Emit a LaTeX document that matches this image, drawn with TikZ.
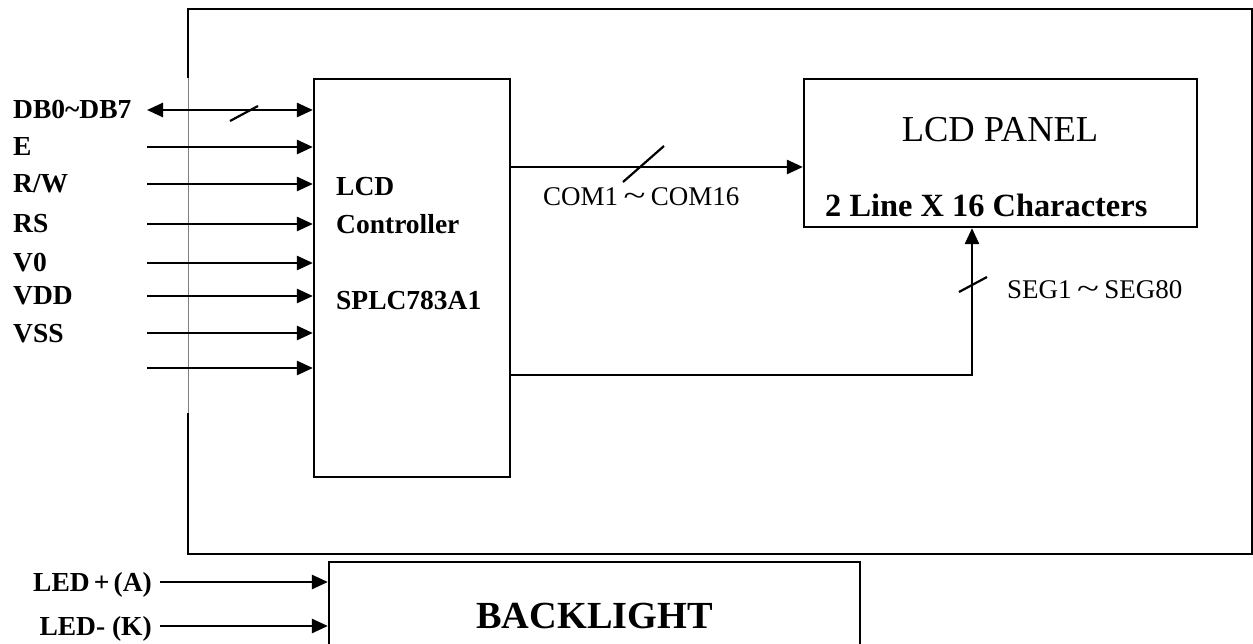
\documentclass[tikz,border=0pt]{standalone}
\usepackage{fontspec}
\setmainfont{Liberation Serif}
\usetikzlibrary{arrows.meta,positioning}

\newcommand{\bustilde}{\hspace{0.2em}\scalebox{1.5}[1.1]{\textasciitilde}\hspace{0.2em}}

\tikzset{
  blk/.style={draw=black,line width=2.2pt,inner sep=0pt},
  sig/.style={line width=2.6pt,->},
  tick/.style={line width=2.2pt},
  pinlbl/.style={font=\fontsize{27.5}{33}\selectfont\bfseries,inner sep=0pt},
  buslbl/.style={font=\fontsize{27}{32}\selectfont,inner sep=0pt,anchor=base west},
}

\begin{document}
\begin{tikzpicture}[x=1pt,y=-1pt,>={Triangle[length=16pt,width=14pt]}]
\useasboundingbox (0,0) rectangle (1253,644);
% module outline
\draw[line width=2.8pt] (188,78) -- (188,9) -- (1252,9) -- (1252,554) -- (188,554) -- (188,413);
\draw[gray,line width=1pt] (188,78) -- (188,413);

% blocks
\node[blk,minimum width=196pt,minimum height=398pt] (ctrl) at (412,278) {};
\node[pinlbl,anchor=north west,align=left,font=\fontsize{27.5}{38}\selectfont\bfseries] (ctrllbl) at (336,177) {LCD\\Controller\\[38pt]SPLC783A1};
\node[blk,minimum width=393pt,minimum height=148pt] (panel) at (1000.5,153) {};
\node[inner sep=0pt,anchor=base,font=\fontsize{36.5}{40}\selectfont] (paneltitle) at (1000,142) {LCD PANEL};
\node[inner sep=0pt,anchor=base west,font=\fontsize{32.4}{38}\selectfont\bfseries] (panelsub) at (825,217) {2 Line X 16 Characters};
\node[blk,minimum width=531pt,minimum height=108pt,font=\fontsize{38.3}{44}\selectfont\bfseries] (backlight) at (594.5,616) {BACKLIGHT};

% data bus
\node[pinlbl,anchor=base west] (pindb) at (13,119) {DB0\textasciitilde DB7};
\coordinate (srcdb) at (147,110);
\draw[sig,<->] (srcdb) -- (srcdb -| ctrl.west);
\draw[tick] (230,121) -- (258,106);

% control and supply pins
\foreach \lab/\yy [count=\i] in {E/147, {R/W}/184, RS/224, V0/263, VDD/296, VSS/333, {}/368} {
  \node[pinlbl,anchor=base west] (pin\i) at (13,\yy+9) {\lab};
  \coordinate (src\i) at (147,\yy);
  \draw[sig] (src\i) -- (src\i -| ctrl.west);
}

% common lines
\coordinate (comy) at (650,167);
\draw[sig] (ctrl.east |- comy) -- (panel.west |- comy);
\draw[tick] (623,182) -- (664,146);
\node[buslbl] (comlbl) at (543,206) {COM1\bustilde COM16};

% segment lines
\coordinate (segx) at (972,375);
\draw[sig] (ctrl.east |- segx) -- (segx) -- (segx |- panel.south);
\draw[tick] (959,292) -- (987,277);
\node[buslbl] (seglbl) at (1007,299) {SEG1\bustilde SEG80};

% backlight supply
\foreach \lab/\yy [count=\i] in {LED\hspace{0.15em}+\hspace{0.15em}(A)/582, LED- (K)/626} {
  \node[pinlbl,anchor=base east] (led\i) at (152,\yy+9) {\lab};
  \coordinate (ledsrc\i) at (160,\yy);
  \draw[sig] (ledsrc\i) -- (ledsrc\i -| backlight.west);
}
\end{tikzpicture}
\end{document}
